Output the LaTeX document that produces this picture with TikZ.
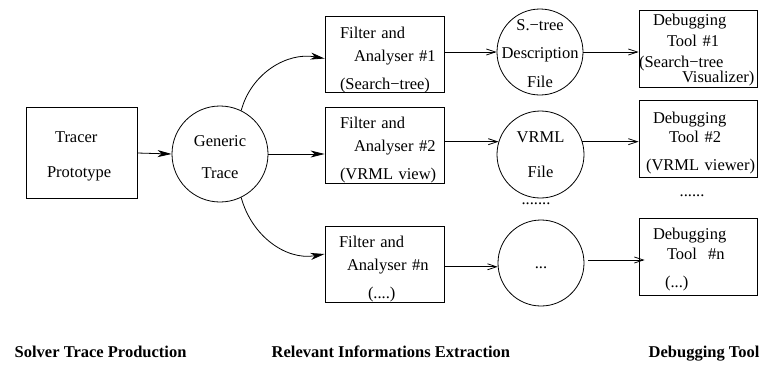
\documentclass[tikz,border=0pt]{standalone}
\usepackage{fontspec}
\setmainfont{Liberation Serif}
\usetikzlibrary{arrows.meta}
\newcommand{\dsize}{\fontsize{16.5}{21}\selectfont}

\begin{document}
\begin{tikzpicture}[x=1pt, y=1pt, font=\dsize, line width=0.8pt,
  box/.style={draw, rectangle, inner sep=0pt, align=left},
  filter/.style={box, text width=119pt, text height=21.5pt, text depth=54.5pt},
  dbg/.style={box, text width=118pt},
  file/.style={draw, circle, inner sep=-2pt, align=center},
  phase/.style={anchor=base west, font=\dsize\bfseries}]
  \useasboundingbox (0,0) rectangle (760,-365);

  % production
  \node[box, text width=111pt, text height=34.5pt, text depth=56.5pt] (t) at (81.5,-153)
    {\hspace*{29pt}Tracer\\[14pt]\hspace*{21pt}Prototype};
  \node[file, minimum size=96pt, text width=60pt, text height=0pt, text depth=16pt] (g) at (220,-154)
    {Generic\\[11pt]Trace};

  % extraction
  \node[filter] (f1) at (384.5,-54.5)
    {\hspace*{15pt}Filter and\\[2pt]\hspace*{29pt}Analyser \#1\\[7pt]\hspace*{15pt}(Search−tree)};
  \node[filter] (f2) at (384.5,-145)
    {\hspace*{15pt}Filter and\\[2pt]\hspace*{29pt}Analyser \#2\\[7pt]\hspace*{15pt}(VRML view)};
  \node[filter] (fn) at (384.5,-264)
    {\hspace*{14pt}Filter and\\[2pt]\hspace*{22pt}Analyser \#n\\[7pt]\hspace*{43pt}(....)};
  \node[file, minimum size=86pt, text width=77pt, text height=0pt, text depth=44pt] (c1) at (540,-52)
    {S.−tree\\[7.5pt]Description\\[7.5pt]File};
  \node[file, minimum size=87pt, text width=60pt, text height=0pt, text depth=25pt] (c2) at (540.5,-154.5)
    {VRML\\[14pt]File};
  \node[file, minimum size=86pt, text width=20pt, text height=10pt, text depth=0pt] (cn) at (541,-263)
    {...};
  \node[anchor=base] (gap1) at (536,-204) {.......};

  % debugging tools
  \node[dbg, text height=15pt, text depth=62pt] (d1) at (698,-48.5)
    {\hspace*{14pt}Debugging\\\hspace*{28pt}Tool \#1\\(Search−tree\\[-6pt]\hspace*{43pt}Visualizer)};
  \node[dbg, text height=23pt, text depth=54pt] (d2) at (698,-139)
    {\hspace*{14pt}Debugging\\[-2pt]\hspace*{30pt}Tool \#2\\[7pt]\hspace*{7pt}(VRML viewer)};
  \node[dbg, text height=21pt, text depth=56pt] (dn) at (698,-257)
    {\hspace*{14pt}Debugging\\[-1pt]\hspace*{28pt}Tool~~\#n\\[7pt]\hspace*{26pt}(...)};
  \node[anchor=base] (gap2) at (692,-196) {......};

  \path[-{Stealth[length=14pt,width=7pt,inset=4pt]}]
    (t.east) edge (g.west)
    (g.east) edge (f2.west |- g.east)
    (g.64) edge[out=75, in=170] ([yshift=-4pt]f1.west)
    (g.-64) edge[out=-75, in=190] ([yshift=10pt]fn.west);
  \path[-{Straight Barb[length=9pt,width=6pt]}]
    (f1.east |- c1.west) edge (c1.west)
    (c1.east) edge (d1.west |- c1.east)
    (f2.east |- c2.163) edge (c2.163)
    (c2.17) edge (d2.west |- c2.17)
    (fn.east |- cn.185) edge (cn.185)
    (cn.4) edge[shorten <=4pt, shorten >=-6pt] (dn.west |- cn.4);

  % phases
  \node[phase] (p1) at (11,-357) {Solver Trace Production};
  \node[phase] (p2) at (268,-357) {Relevant Informations Extraction};
  \node[phase] (p3) at (645,-357) {Debugging Tool};
\end{tikzpicture}
\end{document}
